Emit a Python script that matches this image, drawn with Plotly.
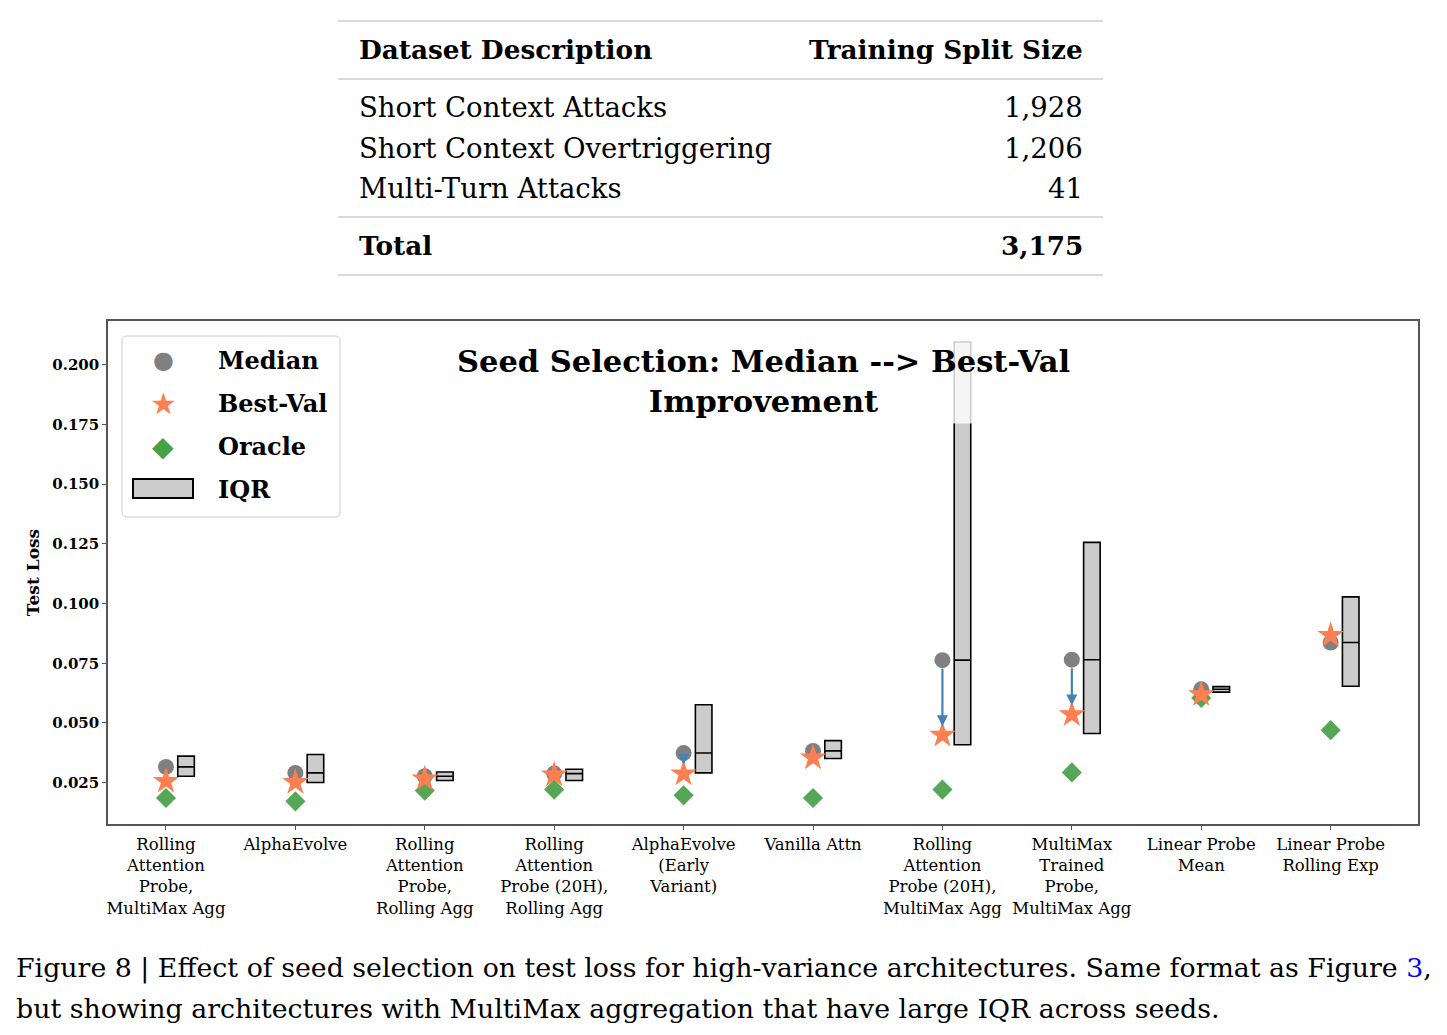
import plotly.graph_objects as go

# ---------------- data ----------------
categories = [
    "Rolling<br>Attention<br>Probe,<br>MultiMax Agg",
    "AlphaEvolve",
    "Rolling<br>Attention<br>Probe,<br>Rolling Agg",
    "Rolling<br>Attention<br>Probe (20H),<br>Rolling Agg",
    "AlphaEvolve<br>(Early<br>Variant)",
    "Vanilla Attn",
    "Rolling<br>Attention<br>Probe (20H),<br>MultiMax Agg",
    "MultiMax<br>Trained<br>Probe,<br>MultiMax Agg",
    "Linear Probe<br>Mean",
    "Linear Probe<br>Rolling Exp",
]
median = [0.0316, 0.0291, 0.0277, 0.0288, 0.0374, 0.0383, 0.0763, 0.0765, 0.0641, 0.0837]
best_val = [0.0256, 0.0251, 0.0266, 0.0283, 0.0287, 0.0354, 0.0449, 0.0535, 0.0619, 0.0867]
oracle = [0.0186, 0.0172, 0.0217, 0.0221, 0.0197, 0.0186, 0.0221, 0.0293, 0.0605, 0.0470]
iqr_q1 = [0.0277, 0.0251, 0.0259, 0.0259, 0.0291, 0.0351, 0.0409, 0.0456, 0.0629, 0.0654]
iqr_q3 = [0.0361, 0.0368, 0.0295, 0.0306, 0.0576, 0.0426, 0.2095, 0.1256, 0.0652, 0.1028]
y_ticks = [0.025, 0.050, 0.075, 0.100, 0.125, 0.150, 0.175, 0.200]

table_header = ["Dataset Description", "Training Split Size"]
table_rows = ["Short Context Attacks", "Short Context Overtriggering", "Multi-Turn Attacks"]
table_sizes = [1928, 1206, 41]
table_total_label = "Total"

# ---------------- layout helpers ----------------
W, H = 1447, 1035
L, R, T, B = 108, 1418, 321, 824
def px(x):
    return (x - L) / (R - L)
def py(y):
    return (B - y) / (B - T)

SERIF = "DejaVu Serif"
AXIS_COLOR = "#555555"
ARROW_COLOR = "#4682B4"
BOX_OFFSET = 0.155
BOX_WIDTH = 0.128
ARROW_MIN_GAIN = 0.008

xs = list(range(len(categories)))
box_x = [i + BOX_OFFSET for i in xs]

fig = go.Figure()

# IQR boxes
fig.add_trace(go.Box(
    x=box_x, q1=iqr_q1, median=median, q3=iqr_q3,
    lowerfence=iqr_q1, upperfence=iqr_q3,
    width=BOX_WIDTH, whiskerwidth=0, boxpoints=False,
    fillcolor="#cccccc", line=dict(color="black", width=1.6),
    showlegend=False, hoverinfo="skip",
))

fig.add_trace(go.Scatter(x=xs, y=median, mode="markers", name="Median",
                         marker=dict(symbol="circle", size=16, color="#808080"),
                         showlegend=False))
fig.add_trace(go.Scatter(x=xs, y=oracle, mode="markers", name="Oracle",
                         marker=dict(symbol="diamond", size=15.5, color="rgb(70,160,70)",
                                     opacity=0.92),
                         showlegend=False))
fig.add_trace(go.Scatter(x=xs, y=best_val, mode="markers", name="Best-Val",
                         marker=dict(symbol="star", size=20, color="#FF7F50"),
                         showlegend=False))

annotations = []
shapes = []

# arrows median -> best-val
for i in xs:
    if median[i] - best_val[i] > ARROW_MIN_GAIN:
        annotations.append(dict(
            x=i, y=best_val[i], ax=i, ay=median[i],
            xref="x", yref="y", axref="x", ayref="y",
            text="", showarrow=True, arrowhead=2, arrowsize=1,
            arrowwidth=2.2, arrowcolor=ARROW_COLOR,
            standoff=9, startstandoff=7,
        ))

# title inside plot with translucent bbox
annotations.append(dict(
    text="<b>Seed Selection: Median --> Best-Val</b><br><b>Improvement</b>",
    x=px(763), y=py(381), xref="paper", yref="paper",
    xanchor="center", yanchor="middle", showarrow=False,
    font=dict(family=SERIF, size=30.5, color="black"),
    bgcolor="rgba(255,255,255,0.8)", borderpad=4,
))

# manual legend
def rounded_rect(x0, y0, x1, y1, r):
    rx = r / (R - L)
    ry = r / (B - T)
    X0, X1 = px(x0), px(x1)
    Y0, Y1 = py(y1), py(y0)
    return (f"M {X0+rx},{Y0} L {X1-rx},{Y0} Q {X1},{Y0} {X1},{Y0+ry} "
            f"L {X1},{Y1-ry} Q {X1},{Y1} {X1-rx},{Y1} L {X0+rx},{Y1} "
            f"Q {X0},{Y1} {X0},{Y1-ry} L {X0},{Y0+ry} Q {X0},{Y0} {X0+rx},{Y0} Z")

shapes.append(dict(type="path", xref="paper", yref="paper",
                   path=rounded_rect(122, 336, 340, 517, 5),
                   fillcolor="rgba(255,255,255,0.85)",
                   line=dict(color="#cccccc", width=1), layer="above"))

legend_items = [("Median", "●", "#808080", 24, 360),
                ("Best-Val", "★", "#FF7F50", 30, 403),
                ("Oracle", "◆", "rgb(70,160,70)", 28, 446)]
for label, glyph, col, gsize, yy in legend_items:
    annotations.append(dict(text=glyph, x=px(163), y=py(yy), xref="paper", yref="paper",
                            xanchor="center", yanchor="middle", showarrow=False,
                            font=dict(family="DejaVu Sans", size=gsize, color=col)))
    annotations.append(dict(text=f"<b>{label}</b>", x=px(216), y=py(yy), xref="paper",
                            yref="paper", xanchor="left", yanchor="middle",
                            showarrow=False,
                            font=dict(family=SERIF, size=24, color="black")))
shapes.append(dict(type="rect", xref="paper", yref="paper",
                   x0=px(133), x1=px(193), y0=py(498), y1=py(479),
                   fillcolor="#cccccc", line=dict(color="black", width=2),
                   layer="above"))
annotations.append(dict(text="<b>IQR</b>", x=px(216), y=py(489), xref="paper",
                        yref="paper", xanchor="left", yanchor="middle",
                        showarrow=False, font=dict(family=SERIF, size=24, color="black")))

# table above the chart
for yline in [21, 79, 217, 275]:
    shapes.append(dict(type="line", xref="paper", yref="paper",
                       x0=px(338), x1=px(1103), y0=py(yline), y1=py(yline),
                       line=dict(color="#d9d9d9", width=2)))

def tbl(text, x, y, anchor, size, bold=False):
    annotations.append(dict(text=f"<b>{text}</b>" if bold else text,
                            x=px(x), y=py(y), xref="paper", yref="paper",
                            xanchor=anchor, yanchor="middle", showarrow=False,
                            font=dict(family=SERIF, size=size, color="black")))

tbl(table_header[0], 357, 50, "left", 26.3, True)
tbl(table_header[1], 1085, 50, "right", 26.3, True)
for k, (name, val) in enumerate(zip(table_rows, table_sizes)):
    yy = [107, 148, 188][k]
    tbl(name, 357, yy, "left", 27.5)
    tbl(f"{val:,}", 1085, yy, "right", 27.5)
tbl(table_total_label, 357, 245, "left", 26.3, True)
tbl(f"{sum(table_sizes):,}", 1085, 245, "right", 26.3, True)

# caption
annotations.append(dict(
    text="Figure 8 | Effect of seed selection on test loss for high-variance architectures. "
         "Same format as Figure <span style='color:#0000ff'>3</span>,",
    x=px(14), y=py(968), xref="paper", yref="paper", xanchor="left", yanchor="middle",
    showarrow=False, font=dict(family=SERIF, size=26.8, color="black")))
annotations.append(dict(
    text="but showing architectures with MultiMax aggregation that have large IQR across seeds.",
    x=px(14), y=py(1008), xref="paper", yref="paper", xanchor="left", yanchor="middle",
    showarrow=False, font=dict(family=SERIF, size=26.8, color="black")))

fig.update_layout(
    width=W, height=H,
    margin=dict(l=L, r=W - R, t=T, b=H - B, pad=0),
    paper_bgcolor="white", plot_bgcolor="white",
    showlegend=False,
    annotations=annotations, shapes=shapes,
    font=dict(family=SERIF, color="black"),
)
fig.update_xaxes(
    range=[-0.448, 9.675], tickmode="array", tickvals=xs, ticktext=categories,
    showgrid=False, zeroline=False, showline=True, mirror=True,
    linecolor=AXIS_COLOR, linewidth=1.5, ticks="outside", ticklen=4,
    tickcolor=AXIS_COLOR, tickfont=dict(family=SERIF, size=16.5, color="black"),
    automargin=False,
)
fig.update_yaxes(
    range=[0.0077, 0.2183], tickmode="array", tickvals=y_ticks,
    tickformat=".3f", showgrid=False, zeroline=False, showline=True, mirror=True,
    linecolor=AXIS_COLOR, linewidth=1.5, ticks="outside", ticklen=4,
    tickcolor=AXIS_COLOR,
    tickfont=dict(family=SERIF, size=15, color="black", weight="bold"),
    title=dict(text="<b>Test Loss</b>", standoff=8,
               font=dict(family=SERIF, size=17, color="black")),
    automargin=False,
)

fig.write_html("out.html")
